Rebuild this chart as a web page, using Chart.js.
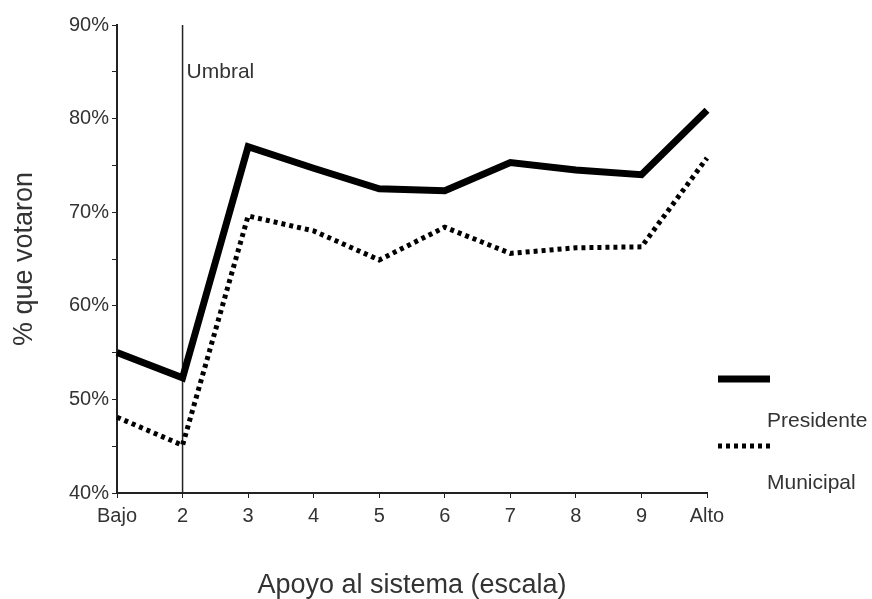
<!DOCTYPE html>
<html>
<head>
<meta charset="utf-8">
<script src="https://cdn.jsdelivr.net/npm/chart.js@4"></script>
<style>
  html, body { margin: 0; padding: 0; background: #fff; }
  #wrap { width: 872px; height: 599px; }
</style>
</head>
<body>
<div id="wrap"><canvas id="votoChart"></canvas></div>
<script>
"use strict";

// niveles de apoyo al sistema
const categorias = ['Bajo', '2', '3', '4', '5', '6', '7', '8', '9', 'Alto'];
// % que votaron
const presidente = [55.0, 52.3, 77.0, 74.7, 72.5, 72.3, 75.3, 74.5, 74.0, 80.9];
const municipal = [48.1, 45.1, 69.6, 68.0, 64.9, 68.4, 65.6, 66.2, 66.3, 75.8];
const etiquetas = ['Presidente', 'Municipal'];
const umbral = '2';

const FONT = "'Liberation Sans', Arial, sans-serif";
const TEXT = '#333';

/**
 * Vertical threshold line with its label
 */
const umbralPlugin = {
    id: 'umbral',
    beforeDatasetsDraw(chart) {
        const { ctx, chartArea, scales } = chart;
        const x = scales.x.getPixelForValue(categorias.indexOf(umbral));
        ctx.save();
        ctx.strokeStyle = '#222';
        ctx.lineWidth = 1.5;
        ctx.beginPath();
        ctx.moveTo(x, chartArea.top);
        ctx.lineTo(x, chartArea.bottom);
        ctx.stroke();
        ctx.fillStyle = TEXT;
        ctx.font = '21px ' + FONT;
        ctx.textBaseline = 'middle';
        ctx.fillText('Umbral', x + 4, 72);
        ctx.restore();
    }
};

/**
 * Legend drawn to the right, sample above its label
 */
const leyendaPlugin = {
    id: 'leyenda',
    afterDraw(chart) {
        const { ctx } = chart;
        const rows = [{ y: 379, ty: 421 }, { y: 446, ty: 483 }];
        chart.data.datasets.forEach((ds, i) => {
            ctx.save();
            ctx.strokeStyle = ds.borderColor;
            ctx.lineWidth = ds.borderWidth;
            ctx.setLineDash(ds.borderDash || []);
            ctx.beginPath();
            ctx.moveTo(718, rows[i].y);
            ctx.lineTo(770, rows[i].y);
            ctx.stroke();
            ctx.setLineDash([]);
            ctx.fillStyle = TEXT;
            ctx.font = '21px ' + FONT;
            ctx.textBaseline = 'middle';
            ctx.fillText(ds.label, 767, rows[i].ty);
            ctx.restore();
        });
    }
};

const ctx = document.getElementById('votoChart');
new Chart(ctx, {
    type: 'line',
    data: {
        labels: categorias,
        datasets: [{
            label: etiquetas[0],
            data: presidente,
            borderColor: '#000',
            borderWidth: 7,
            borderJoinStyle: 'miter',
            pointRadius: 0,
            tension: 0
        }, {
            label: etiquetas[1],
            data: municipal,
            borderColor: '#000',
            borderWidth: 5,
            borderDash: [4, 4],
            borderJoinStyle: 'miter',
            pointRadius: 0,
            tension: 0
        }]
    },
    options: {
        responsive: true,
        maintainAspectRatio: false,
        animation: false,
        layout: { padding: { top: 25, right: 165, bottom: 0, left: 0 } },
        plugins: {
            legend: { display: false },
            tooltip: { enabled: false }
        },
        scales: {
            x: {
                offset: false,
                afterFit: s => { s.height = 106; },
                grid: { drawOnChartArea: false, tickLength: 5, tickColor: '#222' },
                border: { color: '#222', width: 2 },
                ticks: { color: TEXT, padding: 6, font: { family: FONT, size: 20 } },
                title: {
                    display: true,
                    text: 'Apoyo al sistema (escala)',
                    color: TEXT,
                    font: { family: FONT, size: 27, lineHeight: 1 },
                    padding: { top: 0, bottom: 0 }
                }
            },
            y: {
                min: 40,
                max: 90,
                afterFit: s => { s.width = 117; },
                grid: { drawOnChartArea: false, tickLength: 5, tickColor: '#222' },
                border: { color: '#222', width: 2 },
                ticks: {
                    stepSize: 5,
                    color: TEXT,
                    padding: 3,
                    autoSkip: false,
                    font: { family: FONT, size: 20 },
                    callback: v => (v % 10 === 0 ? v + '%' : '')
                },
                title: {
                    display: true,
                    text: '% que votaron',
                    color: TEXT,
                    font: { family: FONT, size: 27 },
                    padding: { top: 8, bottom: 0 }
                }
            }
        }
    },
    plugins: [umbralPlugin, leyendaPlugin]
});
</script>
</body>
</html>
